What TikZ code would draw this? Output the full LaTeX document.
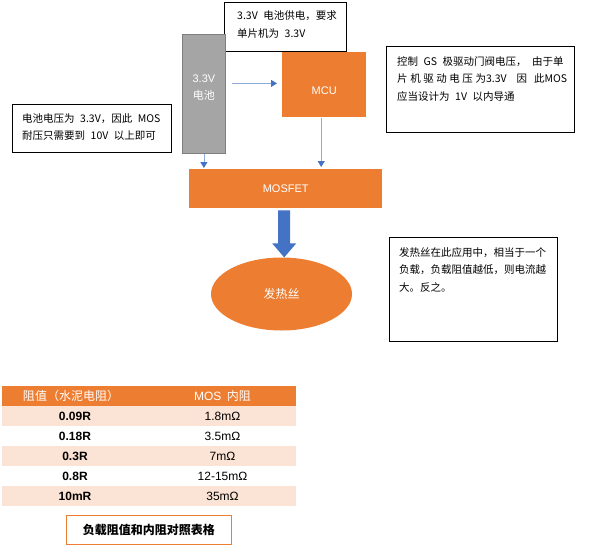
\documentclass[tikz,border=0pt]{standalone}
\usepackage{fontspec}
\setmainfont{Liberation Sans}
\newfontfamily\cjk{Noto Sans CJK SC}
\usetikzlibrary{calc,positioning,shapes.geometric,arrows.meta}
\definecolor{wordorange}{HTML}{ED7D31}
\definecolor{wordblue}{HTML}{4472C4}
\definecolor{lineblue}{HTML}{8FAADC}
\definecolor{batgray}{HTML}{A5A5A5}
\definecolor{batedge}{HTML}{7F7F7F}
\definecolor{rowpeach}{HTML}{FBE4D5}
\newcommand\gap{\hspace{5.5pt}}
\tikzset{
  notebox/.style={draw=black, line width=0.9pt, inner sep=0pt, anchor=north west},
  notetext/.style={font=\cjk\fontsize{10.5}{17.5}\selectfont, align=left, inner sep=0pt, anchor=north west},
  orangebox/.style={fill=wordorange, inner sep=0pt, anchor=north west},
  whitetext/.style={text=white, inner sep=0pt, font=\fontsize{11}{17}\selectfont, align=center},
  feed/.style={draw=lineblue, line width=0.8pt, -{Triangle[width=7pt,length=6pt,color=wordblue]}},
  ohmcell/.style={inner sep=0pt, font=\fontsize{12}{14}\selectfont},
  loadcell/.style={inner sep=0pt, font=\fontsize{12}{14}\selectfont\bfseries}
}
\begin{document}
\begin{tikzpicture}[x=1pt,y=-1pt]
                \useasboundingbox (0,0) rectangle (602,551);
                \coordinate (S) at (224,2);
                \coordinate (B) at (182,34);
                \coordinate (M) at (282,52);
                \coordinate (N) at (12,104);
                \coordinate (G) at (386,46);
                \coordinate (F) at (189,169);
                \coordinate (H) at (389,237);

                % notes
                \node[notebox, minimum width=122, minimum height=49] (supply) at (S) {};
                \node[notetext] (supplytext) at ($(supply.north west)+(13,9)$) {3.3V\gap 电池供电，要求\\单片机为\gap 3.3V};
                \node[notebox, minimum width=159, minimum height=48] (batnote) at (N) {};
                \node[notetext] (batnotetext) at ($(batnote.north west)+(10,9)$) {电池电压为\gap 3.3V，因此\gap MOS\\耐压只需要到\gap 10V\gap 以上即可};
                \node[notebox, minimum width=188, minimum height=86] (gsnote) at (G) {};
                \node[notetext] (gsnotetext) at ($(gsnote.north west)+(11,10)$) {控制\gap GS\gap 极驱动门阀电压，\gap 由于单\\
                      \makebox[170pt][s]{片 机 驱 动 电 压 为3.3V\hspace{10pt}因\hspace{7pt}此MOS}\\应当设计为\gap 1V\gap 以内导通};
                \node[notebox, minimum width=168, minimum height=104] (heatnote) at (H) {};
                \node[notetext] (heatnotetext) at ($(heatnote.north west)+(10,10)$) {发热丝在此应用中，相当于一个\\负载，负载阻值越低，则电流越\\大。反之。};

                % blocks
                \node[fill=batgray, draw=batedge, line width=0.8pt, inner sep=0pt, anchor=north west,
                      minimum width=43, minimum height=119] (battery) at (B) {};
                \node[whitetext] (batterytext) at ($(battery.center)+(0,-6)$) {3.3V\\{\cjk 电池}};
                \node[orangebox, minimum width=84, minimum height=65] (mcu) at (M) {};
                \node[whitetext] (mcutext) at ($(mcu.center)+(0,6)$) {MCU};
                \node[orangebox, minimum width=193, minimum height=39] (mosfet) at (F) {};
                \node[whitetext] (mosfettext) at (mosfet.center) {MOSFET};
                \node[ellipse, fill=wordorange, inner sep=0pt, minimum width=141, minimum height=73] (heater) at (281.5,294) {};
                \node[whitetext, font=\cjk\fontsize{12}{14}\selectfont] (heatertext) at (heater.center) {发热丝};

                % connectors
                \coordinate (feedA) at ($(battery.east)+(6,-10.5)$);
                \draw[feed, shorten >=5pt] (feedA) -- (feedA -| mcu.west);
                \draw[feed, shorten >=1pt] (battery.south) -- (battery.south |- mosfet.north);
                \coordinate (mcuOut) at ($(mcu.south)+(-3,1)$);
                \draw[feed, shorten >=2pt] (mcuOut) -- (mcuOut |- mosfet.north);
                \coordinate (arrowtop) at ($(mosfet.south)+(-1.5,2)$);
                \fill[wordblue] ($(arrowtop)+(-6,0)$) -- ++(12,0) -- ++(0,33) -- ++(6,0)
                      -- ++(-12,14) -- ++(-12,-14) -- ++(6,0) -- cycle;

                % table
                \fill[wordorange] (2,386) rectangle (296,406);
                \foreach \k in {1,3,5}
                  \fill[rowpeach] (2,{386+20*\k}) rectangle (296,{406+20*\k});
                \node[ohmcell, text=white, font=\cjk\fontsize{12}{14}\selectfont] (head1) at (71,396) {阻值（水泥电阻）};
                \node[ohmcell, text=white] (head2) at (222.5,396) {MOS\gap{\cjk 内阻}};
                \foreach \load/\ron [count=\k] in {0.09R/1.8mΩ, 0.18R/3.5mΩ, 0.3R/7mΩ, 0.8R/12-15mΩ, 10mR/35mΩ} {
                  \node[loadcell] (load\k) at (75,{396+20*\k}) {\load};
                  \node[ohmcell] (ron\k) at (222.5,{396+20*\k}) {\ron};
                }
                \node[draw=wordorange, line width=0.9pt, anchor=north west, inner sep=0pt,
                      minimum width=165, minimum height=29, font=\cjk\fontsize{12}{14}\selectfont\bfseries] (caption) at (66,515) {负载阻值和内阻对照表格};
\end{tikzpicture}
\end{document}
